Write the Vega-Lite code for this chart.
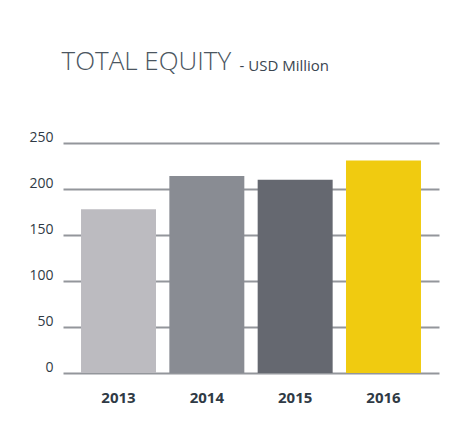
{
  "$schema": "https://vega.github.io/schema/vega-lite/v6.json",
  "width": 376,
  "height": 230,
  "autosize": {"type": "none"},
  "padding": {"left": 63, "top": 143, "right": 30, "bottom": 57},
  "background": "#ffffff",
  "config": {
    "view": {"stroke": null},
    "font": "Open Sans"
  },
  "data": {
    "values": [
      {"year": "2013", "equity": 178},
      {"year": "2014", "equity": 214},
      {"year": "2015", "equity": 210},
      {"year": "2016", "equity": 231}
    ]
  },
  "mark": {"type": "bar"},
  "encoding": {
    "x": {
      "field": "year",
      "type": "nominal",
      "sort": null,
      "scale": {"paddingInner": 0.151, "paddingOuter": 0.204},
      "axis": {
        "title": "- USD Million",
        "titleX": 176,
        "titleY": -303,
        "titleAlign": "left",
        "titleAnchor": null,
        "titleBaseline": "alphabetic",
        "titleFont": "Open Sans",
        "titleFontSize": 15,
        "titleFontWeight": "normal",
        "titleColor": "#3a4550",
        "labelAngle": 0,
        "labelFont": "Open Sans",
        "labelFontSize": 15,
        "labelFontWeight": "bold",
        "labelColor": "#2f3a45",
        "labelPadding": 17,
        "ticks": false,
        "domain": false,
        "grid": false
      }
    },
    "y": {
      "field": "equity",
      "type": "quantitative",
      "scale": {"domain": [0, 250], "nice": false},
      "axis": {
        "title": "TOTAL EQUITY",
        "titleAngle": 0,
        "titleX": -2,
        "titleY": -74,
        "titleAlign": "left",
        "titleAnchor": null,
        "titleBaseline": "alphabetic",
        "titleFont": "Open Sans",
        "titleFontSize": 26,
        "titleFontWeight": 300,
        "titleColor": "#4b5661",
        "values": [0, 50, 100, 150, 200, 250],
        "labelFont": "Open Sans",
        "labelFontSize": 14,
        "labelColor": "#2f3a45",
        "labelPadding": 10,
        "labelBaseline": "alphabetic",
        "labelOffset": -2,
        "ticks": false,
        "domain": false,
        "grid": true,
        "gridColor": "#93969b",
        "gridWidth": 2
      }
    },
    "color": {
      "field": "year",
      "type": "nominal",
      "scale": {
        "domain": ["2013", "2014", "2015", "2016"],
        "range": ["#bcbbc0", "#898c93", "#656870", "#f0cb10"]
      },
      "legend": null
    }
  }
}
